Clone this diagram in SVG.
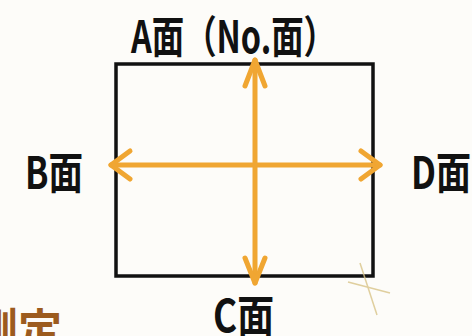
<svg xmlns="http://www.w3.org/2000/svg" width="472" height="336" viewBox="0 0 472 336">
<style>
.lbl{font-family:"Noto Sans CJK JP","Noto Sans CJK SC",sans-serif;font-weight:bold;font-size:44px;fill:#111}
.arr{fill:none;stroke:#F0A632;stroke-width:5;stroke-linecap:round;stroke-linejoin:round}
</style>
<rect width="472" height="336" fill="#FDFCF9"/>
<g id="box">
<rect x="116" y="64" width="257" height="212" fill="none" stroke="#111" stroke-width="3.5"/>
</g>
<g id="labels">
<text class="lbl" x="131" y="53" font-size="47" textLength="205" lengthAdjust="spacingAndGlyphs">A面（No.面）</text>
<text class="lbl" x="25" y="189" textLength="58" lengthAdjust="spacingAndGlyphs">B面</text>
<text class="lbl" x="411" y="189" textLength="60" lengthAdjust="spacingAndGlyphs">D面</text>
<text class="lbl" x="213" y="332" textLength="61" lengthAdjust="spacingAndGlyphs">C面</text>
<text x="-26" y="346" style="font-family:'Noto Sans CJK JP',sans-serif;font-weight:bold;font-size:44px;fill:#9C5B1E">測定</text>
</g>
<g id="connectors">
<line class="arr" x1="255" y1="60" x2="255" y2="283"/>
<line class="arr" x1="111" y1="165" x2="380" y2="165"/>
<polyline class="arr" points="245,86 255,60 265,86"/>
<polyline class="arr" points="245,258 255,283 265,258"/>
<polyline class="arr" points="130,151 111,165 130,179"/>
<polyline class="arr" points="361,151 380,165 361,179"/>
</g>
<g id="mark" stroke="#D9C488" stroke-width="1.5" opacity="0.8">
<line x1="360" y1="263" x2="377" y2="315"/>
<line x1="348" y1="282" x2="390" y2="293"/>
</g>
</svg>
